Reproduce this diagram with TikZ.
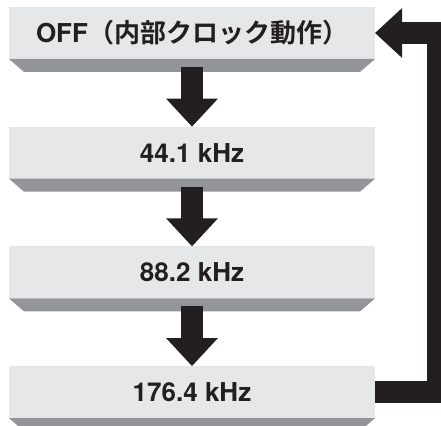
\documentclass[tikz,border=0pt]{standalone}
\usepackage{fontspec}
\setmainfont{TeX Gyre Heros}
\newfontfamily\jpfont{Noto Sans CJK JP}[BoldFont={Noto Sans CJK JP Bold}]
\usetikzlibrary{arrows.meta,positioning}
\definecolor{panel}{HTML}{E6E7E8}
\definecolor{bevelgray}{HTML}{939598}
\definecolor{ink}{HTML}{231F20}
\tikzset{
  freqbox/.style={
    rectangle, fill=panel, outer sep=0pt, inner sep=0pt,
    minimum width=366pt, minimum height=52pt,
    font=\fontsize{26}{30}\selectfont\bfseries, text=ink, align=center
  },
  bevel/.style={fill=bevelgray},
  stepper/.style={
    ink, line width=22pt, -{Triangle[width=50pt, length=28pt]}
  },
  looparrow/.style={
    ink, line width=22pt, line join=miter, -{Triangle[width=48pt, length=27pt]}
  },
}

\begin{document}
\begin{tikzpicture}[x=1pt, y=1pt, node distance=67.7pt]
  \useasboundingbox (0,0) rectangle (441,425);
  \node[freqbox] at (192,392) (off) {OFF{\jpfont（内部クロック動作）}};
  \node[freqbox, below=of off] (k441) {44.1 kHz};
  \node[freqbox, below=of k441] (k882) {88.2 kHz};
  \node[freqbox, below=of k882] (k1764) {176.4 kHz};
  \foreach \s in {off,k441,k882,k1764} {
    \fill[bevel] (\s.south west) -- (\s.south east)
      -- ([xshift=-15pt, yshift=-13pt]\s.south east)
      -- ([xshift=15pt, yshift=-13pt]\s.south west) -- cycle;
  }
  \draw[stepper] ([yshift=-8pt]off.south) -- (k441.north);
  \draw[stepper] ([yshift=-8pt]k441.south) -- (k882.north);
  \draw[stepper] ([yshift=-8pt]k882.south) -- (k1764.north);
  \draw[looparrow] (k1764.east) -- ++(63,0) |- (off.east);
\end{tikzpicture}
\end{document}
